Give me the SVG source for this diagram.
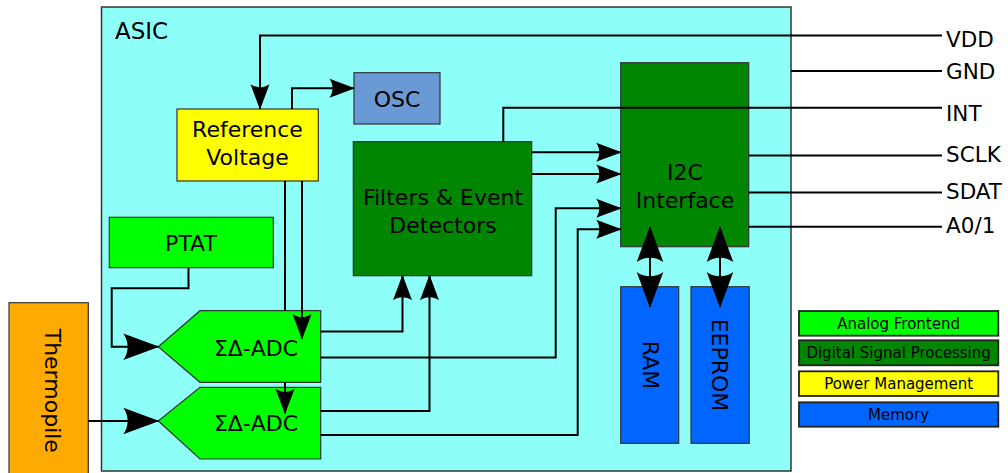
<svg xmlns="http://www.w3.org/2000/svg" width="1008" height="473" viewBox="0 0 1008 473">
<style>
text{font-family:"DejaVu Sans","Liberation Sans",sans-serif;fill:#000}
.n{font-size:22px;text-anchor:middle}
.pin{font-size:21.5px}
.leg{font-size:15px;text-anchor:middle}
.box{stroke:#333;stroke-width:1.2}
.lbox{stroke:#222;stroke-width:1.8}
.w{fill:none;stroke:#000;stroke-width:2}
.s{marker-end:url(#as)}
.l{marker-end:url(#al)}
.d{marker-start:url(#al);marker-end:url(#al)}
.ana{fill:#00ff00}.dsp{fill:#008600}.pwr{fill:#ffff00}.mem{fill:#0066ff}
</style>
<defs>
<marker id="as" markerUnits="userSpaceOnUse" orient="auto-start-reverse" refX="-1" refY="0" markerWidth="30" markerHeight="24" viewBox="-27 -12 30 24" overflow="visible">
<path d="M0,0 L-25.5,-9.5 C-21.4,-3.8 -21.4,3.8 -25.5,9.5 Z" fill="#000"/>
</marker>
<marker id="al" markerUnits="userSpaceOnUse" orient="auto-start-reverse" refX="-1" refY="0" markerWidth="40" markerHeight="30" viewBox="-38 -15 40 30" overflow="visible">
<path d="M0,0 L-36,-13.3 C-30.2,-5.4 -30.2,5.4 -36,13.3 Z" fill="#000"/>
</marker>
</defs>
<rect width="1008" height="473" fill="#fff"/>
<g id="asic">
<rect x="101.5" y="7" width="689.5" height="464" fill="#8efff8" stroke="#333" stroke-width="1.5"/>
<text x="115" y="39" style="font-size:23px">ASIC</text>
</g>
<g id="thermopile">
<rect class="box" x="9" y="302.7" width="79.3" height="172" fill="#ffaa00"/>
<text class="n" transform="translate(44.5,390.8) rotate(90)">Thermopile</text>
</g>
<g id="refvolt">
<rect class="box pwr" x="177" y="109" width="141.3" height="72"/>
<text class="n" x="247.5" y="137">Reference</text>
<text class="n" x="247.5" y="165">Voltage</text>
</g>
<g id="osc">
<rect class="box" x="354" y="72.7" width="86" height="51.3" fill="#6a9ad6"/>
<text class="n" x="397" y="107">OSC</text>
</g>
<g id="ptat">
<rect class="box ana" x="109.3" y="217.3" width="164" height="50.4"/>
<text class="n" x="191" y="251">PTAT</text>
</g>
<g id="adc1">
<polygon class="box ana" points="158.3,346.7 200,310.7 320.7,310.7 320.7,382.3 200,382.3"/>
<text class="n" x="256" y="356">ΣΔ-ADC</text>
</g>
<g id="adc2">
<polygon class="box ana" points="158.3,421 200,387.3 320.7,387.3 320.7,459 200,459"/>
<text class="n" x="256" y="431">ΣΔ-ADC</text>
</g>
<g id="filters">
<rect class="box dsp" x="353.3" y="141.7" width="178.4" height="134"/>
<text class="n" x="443" y="205">Filters &amp; Event</text>
<text class="n" x="443" y="233">Detectors</text>
</g>
<g id="i2c">
<rect class="box dsp" x="620.7" y="62.7" width="128" height="184"/>
<text class="n" x="685" y="180">I2C</text>
<text class="n" x="685" y="208">Interface</text>
</g>
<g id="ram">
<rect class="box mem" x="620.7" y="286.7" width="58" height="156.6"/>
<text class="n" transform="translate(642.5,365) rotate(90)">RAM</text>
</g>
<g id="eeprom">
<rect class="box mem" x="691" y="286.7" width="58.3" height="156.6"/>
<text class="n" transform="translate(712,365) rotate(90)">EEPROM</text>
</g>
<g id="connectors">
<path class="w s" d="M942,35.5 H260 V108.7"/>
<path class="w s" d="M292,109 V88.3 H354"/>
<path class="w l" d="M188.5,267.7 V288.3 H111.7 V346.7 H158.3"/>
<path class="w l" d="M88.3,421 H158.3"/>
<path class="w s" d="M302,181 V338.5"/>
<path class="w" d="M285,181 V310.7"/>
<path class="w s" d="M285,382.3 V413.3"/>
<path class="w s" d="M320.7,331.5 H402.5 V275.7"/>
<path class="w s" d="M320.7,411 H429.5 V275.7"/>
<path class="w s" d="M320.7,357.5 H555.7 V208.3 H620.7"/>
<path class="w s" d="M320.7,435 H577.7 V229.3 H620.7"/>
<path class="w s" d="M531.7,152.3 H620.7"/>
<path class="w s" d="M531.7,174 H620.7"/>
<path class="w" d="M942,107.7 H503.3 V141.7"/>
<path class="w" d="M791,71 H942"/>
<path class="w" d="M748.7,155.5 H942"/>
<path class="w" d="M748.7,192.5 H942"/>
<path class="w" d="M748.7,226.7 H942"/>
<path class="w d" d="M650,227 V307"/>
<path class="w d" d="M720,227 V307"/>
</g>
<g id="pins">
<text class="pin" x="946" y="46.7">VDD</text>
<text class="pin" x="946" y="79">GND</text>
<text class="pin" x="946" y="120.7">INT</text>
<text class="pin" x="946" y="162.3">SCLK</text>
<text class="pin" x="946" y="199">SDAT</text>
<text class="pin" x="946" y="233.3">A0/1</text>
</g>
<g id="legend">
<rect class="lbox ana" x="799" y="311" width="199.3" height="24.7"/>
<text class="leg" x="898.6" y="328.7">Analog Frontend</text>
<rect class="lbox dsp" x="799" y="340.3" width="199.3" height="25"/>
<text class="leg" x="898.6" y="358.2">Digital Signal Processing</text>
<rect class="lbox pwr" x="799" y="371.3" width="199.3" height="24.7"/>
<text class="leg" x="898.6" y="389.2">Power Management</text>
<rect class="lbox mem" x="799" y="402.3" width="199.3" height="24.4"/>
<text class="leg" x="898.6" y="420">Memory</text>
</g>
</svg>
